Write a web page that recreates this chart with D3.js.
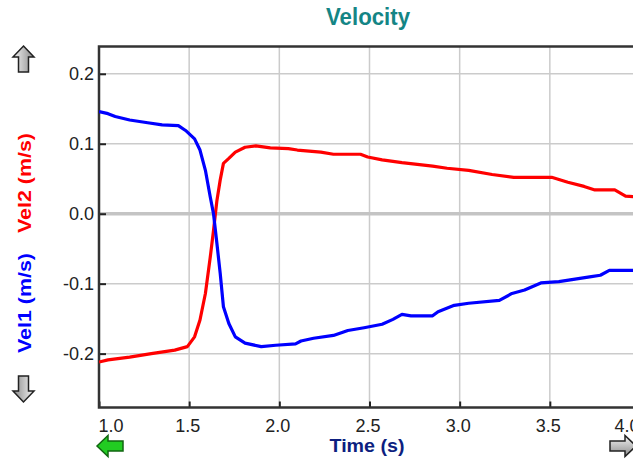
<!DOCTYPE html>
<html>
<head>
<meta charset="utf-8">
<title>Velocity</title>
<style>
body { margin: 0; background: #fff; }
svg { display: block; }
.tick text { font: 18px "Liberation Sans", Arial, sans-serif; fill: #222; }
.grid line { stroke: #cbcbcb; stroke-width: 1.5px; }
path.trace { fill: none; stroke-width: 3.2px; stroke-linejoin: round; }
</style>
</head>
<body>
<script src="https://cdn.jsdelivr.net/npm/d3@7"></script>
<script>

// Vel1 (blue)
var vel1Time = [1.00, 1.05, 1.09, 1.17, 1.27, 1.35, 1.44, 1.48, 1.53, 1.56, 1.59, 1.617, 1.635, 1.654, 1.672, 1.69,
                1.72, 1.756, 1.81, 1.90, 1.98, 2.09, 2.12, 2.19, 2.30, 2.38, 2.47, 2.57, 2.63, 2.68, 2.73, 2.85,
                2.88, 2.97, 3.05, 3.22, 3.29, 3.36, 3.45, 3.55, 3.73, 3.78, 3.83, 4.00];
var vel1 = [0.146, 0.143, 0.139, 0.134, 0.130, 0.127, 0.126, 0.119, 0.107, 0.091, 0.062, 0.024, 0.000, -0.043, -0.085, -0.133,
            -0.157, -0.176, -0.185, -0.190, -0.188, -0.186, -0.182, -0.178, -0.174, -0.167, -0.163, -0.158, -0.151, -0.144, -0.146, -0.146,
            -0.140, -0.131, -0.128, -0.124, -0.114, -0.109, -0.099, -0.097, -0.090, -0.088, -0.081, -0.081];

// Vel2 (red)
var vel2Time = [1.00, 1.05, 1.17, 1.29, 1.42, 1.49, 1.53, 1.56, 1.59, 1.617, 1.635, 1.654, 1.672, 1.69, 1.72, 1.756,
                1.81, 1.87, 1.95, 2.05, 2.10, 2.23, 2.30, 2.45, 2.49, 2.57, 2.68, 2.85, 2.93, 3.05, 3.18, 3.30,
                3.51, 3.60, 3.69, 3.75, 3.86, 3.92, 4.00];
var vel2 = [-0.212, -0.209, -0.205, -0.200, -0.195, -0.190, -0.176, -0.152, -0.114, -0.062, -0.024, 0.019, 0.048, 0.072, 0.079, 0.088,
            0.095, 0.097, 0.094, 0.093, 0.091, 0.088, 0.085, 0.085, 0.081, 0.077, 0.073, 0.068, 0.065, 0.062, 0.056, 0.052,
            0.052, 0.045, 0.039, 0.034, 0.034, 0.025, 0.024];

var xTicks = [1.0, 1.5, 2.0, 2.5, 3.0, 3.5, 4.0];
var yTicks = [-0.2, -0.1, 0.0, 0.1, 0.2];

var width = 633,
    height = 462,
    pLeft = 99, pRight = 640, pTop = 46.5, pBottom = 407.5;

// plain hyphen for negatives, like the original
var fmt = d3.formatLocale({decimal: ".", thousands: ",", grouping: [3], currency: ["", ""], minus: "-"}).format(".1f");

var x = d3.scaleLinear().domain([1, 4]).range([pLeft, pRight]);
var y = d3.scaleLinear().domain([-0.277, 0.239]).range([pBottom, pTop]);

var svg = d3.select("body").append("svg")
    .attr("width", width)
    .attr("height", height);

var defs = svg.append("defs");
defs.append("clipPath").attr("id", "plot")
  .append("rect").attr("x", pLeft).attr("y", pTop).attr("width", pRight - pLeft).attr("height", pBottom - pTop);

var grad = defs.append("linearGradient").attr("id", "grey")
    .attr("x1", 0).attr("x2", 1).attr("y1", 0).attr("y2", 0);
grad.append("stop").attr("offset", "0%").attr("stop-color", "#f4f4f4");
grad.append("stop").attr("offset", "100%").attr("stop-color", "#8a8a8a");

// grid
svg.append("g").attr("class", "grid")
  .selectAll("line").data(xTicks.slice(1)).enter().append("line")
    .attr("x1", x).attr("x2", x).attr("y1", pTop).attr("y2", pBottom);
svg.append("g").attr("class", "grid")
  .selectAll("line").data(yTicks).enter().append("line")
    .attr("x1", pLeft).attr("x2", pRight)
    .attr("y1", y).attr("y2", y)
    .style("stroke-width", function(d) { return d === 0 ? 3.5 : 1.5; })
    .style("stroke", function(d) { return d === 0 ? "#c4c4c4" : null; });

// axes (ticks pointing into the plot)
var xAxis = svg.append("g")
    .attr("transform", "translate(0," + pBottom + ")")
    .call(d3.axisBottom(x).tickValues(xTicks).tickSize(-6).tickPadding(12).tickFormat(fmt));
xAxis.selectAll(".tick text")
    .attr("text-anchor", function(d, i) { return i === 0 ? "start" : (i === xTicks.length - 1 ? "end" : "middle"); })
    .attr("dx", function(d, i) { return i === 0 ? -1 : (i === xTicks.length - 1 ? -1 : -2); });

var yAxis = svg.append("g")
    .attr("transform", "translate(" + pLeft + ",0)")
    .call(d3.axisLeft(y).tickValues(yTicks).tickSize(-7).tickPadding(5).tickFormat(fmt));

svg.selectAll(".domain").remove();
svg.selectAll(".tick line").attr("stroke", "#222").attr("stroke-width", 2);

// frame: top, left, bottom
svg.append("path")
    .attr("d", "M" + pRight + "," + pTop + "H" + pLeft + "V" + pBottom + "H" + pRight)
    .attr("fill", "none").attr("stroke", "#333").attr("stroke-width", 2.5);

var line = d3.line()
    .x(function(d) { return x(d[0]); })
    .y(function(d) { return y(d[1]); });

svg.append("path").attr("class", "trace").attr("clip-path", "url(#plot)")
    .attr("d", line(d3.zip(vel2Time, vel2))).attr("stroke", "#ff0000");
svg.append("path").attr("class", "trace").attr("clip-path", "url(#plot)")
    .attr("d", line(d3.zip(vel1Time, vel1))).attr("stroke", "#0000ff");

// titles
svg.append("text")
    .attr("x", 368).attr("y", 25)
    .attr("text-anchor", "middle")
    .attr("textLength", 84).attr("lengthAdjust", "spacingAndGlyphs")
    .style("font", "bold 23px 'Liberation Sans', Arial, sans-serif")
    .style("fill", "#148585")
    .text("Velocity");

svg.append("text")
    .attr("x", 367).attr("y", 452)
    .attr("text-anchor", "middle")
    .attr("textLength", 75).attr("lengthAdjust", "spacingAndGlyphs")
    .style("font", "bold 18px 'Liberation Sans', Arial, sans-serif")
    .style("fill", "#0d1f80")
    .text("Time (s)");

[["Vel2 (m/s)", "#ff0000", 183], ["Vel1 (m/s)", "#0000ff", 303]].forEach(function(t) {
  svg.append("text")
      .attr("transform", "translate(31," + t[2] + ") rotate(-90)")
      .attr("text-anchor", "middle")
      .attr("textLength", 100).attr("lengthAdjust", "spacingAndGlyphs")
      .style("font", "bold 19px 'Liberation Sans', Arial, sans-serif")
      .style("fill", t[1])
      .text(t[0]);
});

// scroll arrows
var arrow = "M0,-13 L10.5,-2 L5,-2 L5,13 L-5,13 L-5,-2 L-10.5,-2 Z";
function addArrow(cx, cy, angle, fill, stroke) {
  svg.append("path")
      .attr("d", arrow)
      .attr("transform", "translate(" + cx + "," + cy + ") rotate(" + angle + ")")
      .attr("fill", fill).attr("stroke", stroke).attr("stroke-width", 1.5)
      .attr("stroke-linejoin", "miter");
}
addArrow(23.5, 59, 0, "url(#grey)", "#222");
addArrow(23.5, 389, 180, "url(#grey)", "#222");
addArrow(110, 446, -90, "#22cc22", "#116611");
addArrow(623, 446, 90, "url(#grey)", "#222");

</script>
</body>
</html>
